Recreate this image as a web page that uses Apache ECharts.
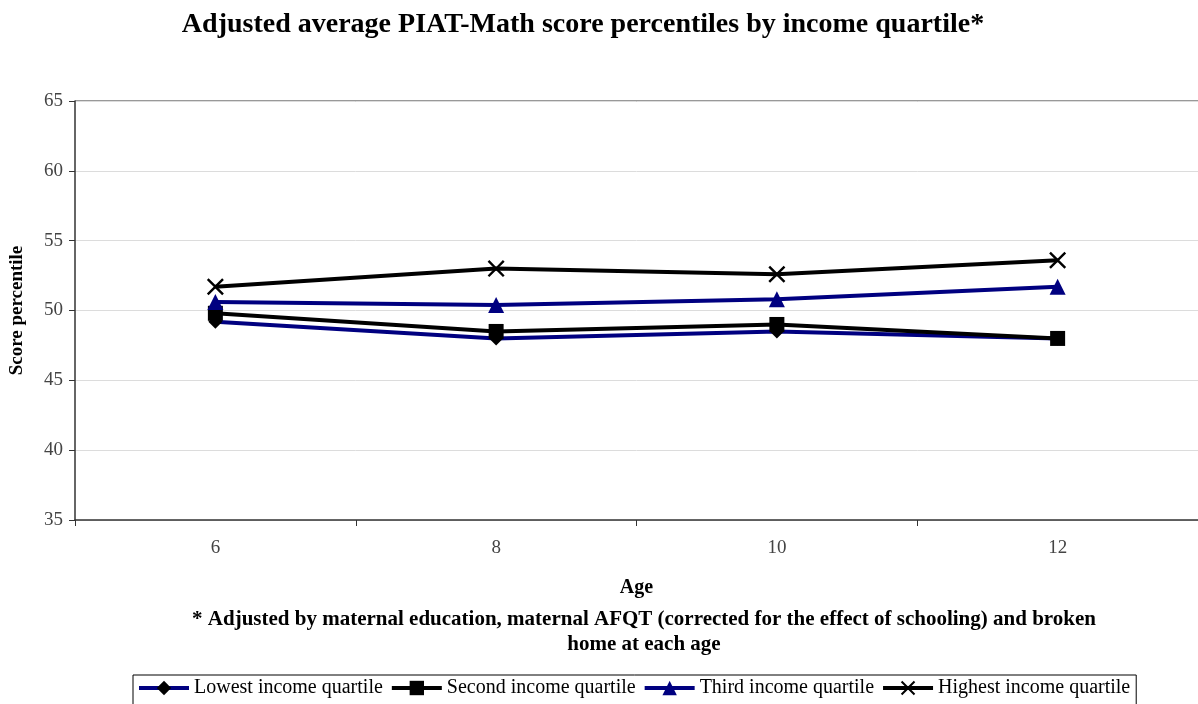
<!DOCTYPE html>
<html><head><meta charset="utf-8">
<script src="https://cdn.jsdelivr.net/npm/echarts@6/dist/echarts.min.js"></script>
<style>html,body{margin:0;padding:0;background:#fff}#c{width:1198px;height:704px}</style>
</head><body><div id="c"></div>
<script>
const ages = ['6', '8', '10', '12'];
const lowest = [49.2, 48.0, 48.5, 48.0];
const second = [49.8, 48.5, 49.0, 48.0];
const third = [50.6, 50.4, 50.8, 51.7];
const highest = [51.7, 53.0, 52.6, 53.6];
const yTicks = {min: 35, max: 65, interval: 5};

const F = 'Liberation Serif, Times New Roman, serif';
const NAVY = '#000080';
const XPATH = 'path://M0,1L1,0L5,4L9,0L10,1L6,5L10,9L9,10L5,6L1,10L0,9L4,5Z';
const chart = echarts.init(document.getElementById('c'));
chart.setOption({
  animation: false,
  title: [
    {text: 'Adjusted average PIAT-Math score percentiles by income quartile*', left: 578, top: 6, textAlign: 'center',
     textStyle: {fontFamily: F, fontSize: 28, fontWeight: 'bold', color: '#000'}},
    {text: '* Adjusted by maternal education, maternal AFQT (corrected for the effect of schooling) and broken\nhome at each age',
     left: 639, top: 602, textAlign: 'center',
     textStyle: {fontFamily: F, fontSize: 21, fontWeight: 'bold', color: '#000', lineHeight: 25, align: 'center'}}
  ],
  grid: {left: 75, top: 101, right: 0, bottom: 184, outerBoundsMode: 'none', containLabel: false},
  legend: {
    left: 133, top: 675, itemWidth: 50, itemHeight: 18, itemGap: 7,
    borderColor: '#000', borderWidth: 1, padding: [3, 6, 8, 4],
    lineStyle: {width: 4},
    textStyle: {fontFamily: F, fontSize: 20, color: '#000'},
    data: ['Lowest income quartile', 'Second income quartile', 'Third income quartile', 'Highest income quartile']
  },
  xAxis: {
    type: 'category', data: ages, boundaryGap: true,
    name: 'Age', nameLocation: 'middle', nameGap: 58,
    nameTextStyle: {fontFamily: F, fontSize: 20, fontWeight: 'bold', color: '#000'},
    axisLine: {lineStyle: {color: '#333', width: 1.5}},
    axisTick: {show: true, length: 6, lineStyle: {color: '#333'}},
    axisLabel: {fontFamily: F, fontSize: 19, color: '#444', margin: 19}
  },
  yAxis: {
    type: 'value', min: yTicks.min, max: yTicks.max, interval: yTicks.interval,
    name: 'Score percentile', nameLocation: 'middle', nameGap: 48,
    nameTextStyle: {fontFamily: F, fontSize: 19, fontWeight: 'bold', color: '#000'},
    axisLine: {show: true, lineStyle: {color: '#333', width: 1.5}},
    axisTick: {show: true, length: 6, lineStyle: {color: '#333'}},
    axisLabel: {fontFamily: F, fontSize: 19, color: '#444', margin: 12},
    splitLine: {lineStyle: {color: '#dcdcdc', width: 1}}
  },
  series: [
    {name: 'Lowest income quartile', type: 'line', data: lowest, symbol: 'diamond', symbolSize: 14,
     lineStyle: {color: NAVY, width: 4}, itemStyle: {color: '#000'}},
    {name: 'Second income quartile', type: 'line', data: second, symbol: 'rect', symbolSize: 15,
     lineStyle: {color: '#000', width: 4}, itemStyle: {color: '#000'}},
    {name: 'Third income quartile', type: 'line', data: third, symbol: 'triangle', symbolSize: 16,
     lineStyle: {color: NAVY, width: 4}, itemStyle: {color: NAVY}},
    {name: 'Highest income quartile', type: 'line', data: highest, symbol: XPATH, symbolSize: 17,
     lineStyle: {color: '#000', width: 4}, itemStyle: {color: '#000'}}
  ],
  graphic: [
    {type: 'line', shape: {x1: 75, y1: 101, x2: 1198, y2: 101}, style: {stroke: '#999', lineWidth: 2}, z: 0}
  ]
});
</script></body></html>
